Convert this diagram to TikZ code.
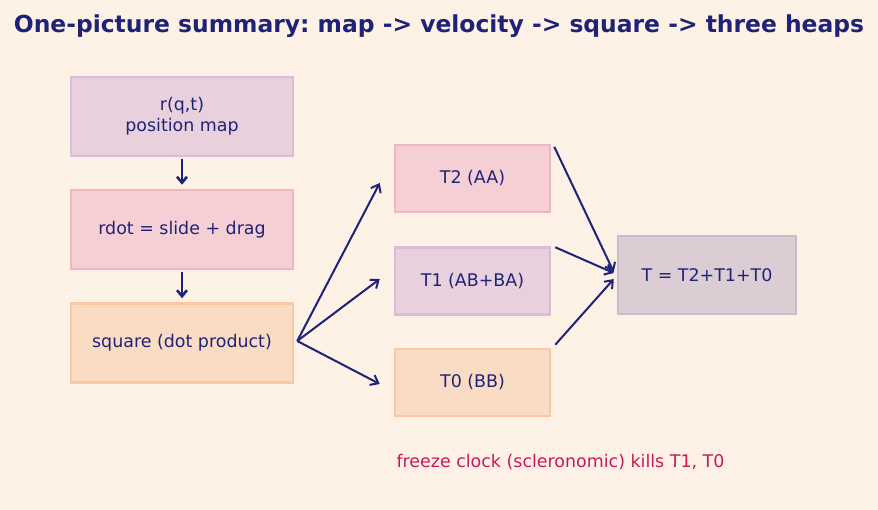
\documentclass[tikz,border=0pt]{standalone}
\usepackage{fontspec}
\setmainfont{DejaVu Sans}
\usetikzlibrary{arrows.meta}
\frenchspacing
\definecolor{bgcol}{HTML}{FEF1E6}
\definecolor{navy}{HTML}{1F2378}
\definecolor{notered}{HTML}{C8195A}
\definecolor{lilacfill}{HTML}{E8D0DC}
\definecolor{lilacline}{HTML}{D9BDD8}
\definecolor{pinkfill}{HTML}{F5CFD3}
\definecolor{pinkline}{HTML}{EFB8C1}
\definecolor{peachfill}{HTML}{FADBC3}
\definecolor{peachline}{HTML}{F8C8A2}
\definecolor{greyfill}{HTML}{DBCDD3}
\definecolor{greyline}{HTML}{CABCCB}
\tikzset{%
stage/.style={draw,line width=2.5bp,font=\fontsize{17.5}{21}\selectfont,text=navy,align=center,
              minimum width=222bp,minimum height=79bp,inner sep=0pt},
heap/.style={stage,minimum width=155bp,minimum height=67bp},
total/.style={stage,minimum width=178bp,minimum height=78bp},
down/.style={draw=navy,line width=2.6bp,-{Straight Barb[length=6bp,width=10bp,line width=2.6bp]},shorten <=2bp,shorten >=4bp},
feed/.style={draw=navy,line width=2bp,-{Straight Barb[length=7bp,width=11bp,line width=2bp]}}
}

\begin{document}
\begin{tikzpicture}[x=1bp,y=-1bp]
\fill[bgcol] (0,0) rectangle (878,510);
\useasboundingbox (0,0) rectangle (878,510);

\node[font=\fontsize{23.5}{27}\selectfont\bfseries,text=navy] (title) at (439,26)
     {One-picture summary: map -> velocity -> square -> three heaps};

\node[stage,fill=lilacfill,draw=lilacline] (map)    at (182,116.5) {r(q,t)\\position map};
\node[stage,fill=pinkfill,draw=pinkline]   (vel)    at (182,229.5) {rdot = slide + drag};
\node[stage,fill=peachfill,draw=peachline] (square) at (182,343)   {square (dot product)};

\node[heap,fill=pinkfill,draw=pinkline]    (ttwo)  at (472.5,178.5) {T2 (AA)};
\node[heap,fill=lilacfill,draw=lilacline]  (tone)  at (472.5,281)   {T1 (AB+BA)};
\node[heap,fill=peachfill,draw=peachline]  (tzero) at (472.5,382.5) {T0 (BB)};

\node[total,fill=greyfill,draw=greyline]   (sum)   at (707,275)     {T = T2+T1+T0};

\node[anchor=west,font=\fontsize{17.5}{21}\selectfont,text=notered] (note) at (393,462)
     {freeze clock (scleronomic) kills T1, T0};

% down the left column
\foreach \a/\b in {map/vel,vel/square}
  \draw[down] (\a) -- (\b);

% square splits into three heaps
\foreach \h/\ys in {ttwo/-4.5,tone/2,tzero/-1.5}
  \draw[feed] ([xshift=3bp,yshift=2bp]square.east) -- ([xshift=-14bp,yshift=\ys bp]\h.west);

% heaps add up
\foreach \h/\xs/\ys/\ye in {ttwo/3/-3/3,tone/4/-1/2,tzero/4/3/-4}
  \draw[feed] ([xshift=\xs bp,yshift=\ys bp]\h.north east) -- ([xshift=-3bp,yshift=\ye bp]sum.west);
\end{tikzpicture}
\end{document}
